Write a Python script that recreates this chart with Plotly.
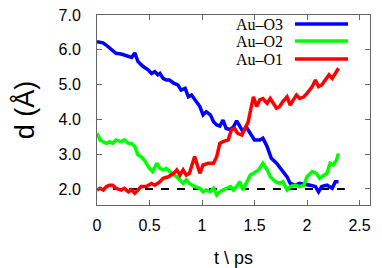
import plotly.graph_objects as go

t_o3 = [0, 0.057, 0.09, 0.14, 0.18, 0.23, 0.30, 0.33, 0.36, 0.39, 0.44, 0.49, 0.52, 0.55, 0.58, 0.60, 0.63, 0.66, 0.69, 0.73, 0.77, 0.80, 0.84, 0.87, 0.90, 0.95, 0.98, 1.01, 1.04, 1.08, 1.11, 1.14, 1.17, 1.20, 1.23, 1.27, 1.30, 1.33, 1.36, 1.39, 1.42, 1.47, 1.50, 1.55, 1.58, 1.62, 1.66, 1.71, 1.76, 1.81, 1.84, 1.89, 1.93, 1.98, 2.03, 2.08, 2.11, 2.14, 2.19, 2.24, 2.27, 2.30]
d_o3 = [6.23, 6.20, 6.13, 5.99, 5.90, 5.88, 5.80, 5.78, 5.91, 5.66, 5.52, 5.42, 5.32, 5.37, 5.28, 5.32, 5.18, 5.13, 5.13, 5.04, 4.99, 4.84, 4.89, 4.65, 4.70, 4.51, 4.37, 4.13, 4.22, 4.13, 3.93, 3.84, 3.81, 3.98, 3.74, 3.71, 3.79, 3.96, 3.79, 3.65, 3.79, 3.55, 3.41, 3.41, 3.46, 3.22, 2.88, 2.74, 2.55, 2.35, 2.16, 2.11, 2.16, 2.14, 2.11, 2.07, 1.92, 2.07, 2.11, 2.02, 2.21, 2.21]

t_o2 = [0, 0.03, 0.06, 0.09, 0.12, 0.15, 0.18, 0.23, 0.26, 0.30, 0.33, 0.36, 0.39, 0.42, 0.45, 0.50, 0.53, 0.57, 0.60, 0.63, 0.66, 0.69, 0.73, 0.76, 0.79, 0.82, 0.85, 0.88, 0.93, 0.98, 1.01, 1.04, 1.08, 1.11, 1.14, 1.17, 1.20, 1.23, 1.27, 1.30, 1.33, 1.36, 1.39, 1.42, 1.46, 1.49, 1.54, 1.58, 1.62, 1.65, 1.70, 1.74, 1.77, 1.81, 1.84, 1.89, 1.93, 1.97, 2.00, 2.05, 2.09, 2.12, 2.16, 2.19, 2.22, 2.25, 2.28, 2.30]
d_o2 = [3.60, 3.41, 3.36, 3.31, 3.36, 3.31, 3.41, 3.36, 3.41, 3.31, 3.31, 3.22, 2.98, 2.93, 2.83, 2.59, 2.50, 2.74, 2.59, 2.55, 2.59, 2.50, 2.40, 2.35, 2.26, 2.16, 2.26, 2.16, 2.07, 2.02, 1.92, 1.97, 1.92, 2.02, 1.83, 1.92, 1.97, 2.02, 2.07, 1.97, 2.07, 2.21, 1.97, 2.16, 2.40, 2.45, 2.55, 2.74, 2.55, 2.35, 2.21, 2.16, 2.21, 1.97, 2.07, 2.11, 2.07, 2.11, 2.35, 2.50, 2.45, 2.31, 2.40, 2.45, 2.74, 2.69, 2.83, 3.02]

t_o1 = [0, 0.03, 0.06, 0.09, 0.12, 0.15, 0.18, 0.23, 0.26, 0.30, 0.33, 0.36, 0.39, 0.42, 0.47, 0.52, 0.55, 0.60, 0.63, 0.68, 0.73, 0.76, 0.79, 0.82, 0.85, 0.88, 0.93, 0.98, 1.01, 1.06, 1.11, 1.14, 1.17, 1.20, 1.25, 1.28, 1.31, 1.34, 1.38, 1.41, 1.44, 1.47, 1.49, 1.52, 1.55, 1.58, 1.62, 1.65, 1.68, 1.71, 1.74, 1.77, 1.81, 1.84, 1.87, 1.90, 1.93, 1.97, 2.00, 2.05, 2.08, 2.11, 2.14, 2.17, 2.21, 2.24, 2.27, 2.30]
d_o1 = [1.97, 2.02, 1.97, 2.07, 2.11, 2.11, 2.02, 1.97, 2.02, 1.92, 1.97, 1.88, 1.97, 2.07, 2.07, 2.16, 2.11, 2.21, 2.31, 2.35, 2.45, 2.55, 2.40, 2.55, 2.40, 2.45, 2.93, 2.45, 2.69, 2.74, 2.74, 2.93, 3.31, 3.36, 3.41, 3.70, 3.74, 3.60, 3.55, 3.74, 3.93, 4.37, 4.65, 4.37, 4.56, 4.60, 4.46, 4.60, 4.46, 4.32, 4.37, 4.51, 4.65, 4.41, 4.56, 4.70, 4.60, 4.65, 4.75, 4.94, 5.13, 4.94, 4.99, 5.13, 5.28, 5.18, 5.32, 5.47]

ref_t = [0, 2.36]
ref_d = [2.0, 2.0]

x_ticks = [0, 0.5, 1, 1.5, 2, 2.5]
x_labels = ["0", "0.5", "1", "1.5", "2", "2.5"]
y_ticks = [2, 3, 4, 5, 6, 7]
y_labels = ["2.0", "3.0", "4.0", "5.0", "6.0", "7.0"]

names = ["Au\u2013O3", "Au\u2013O2", "Au\u2013O1"]
colors = ["#0000ff", "#00ff00", "#ff0000"]

fig = go.Figure()
fig.add_trace(go.Scatter(x=ref_t, y=ref_d, mode="lines",
                         line=dict(color="black", width=2, dash="8px,8px"),
                         showlegend=False))
for tt, dd, c in [(t_o3, d_o3, colors[0]), (t_o2, d_o2, colors[1]), (t_o1, d_o1, colors[2])]:
    fig.add_trace(go.Scatter(x=tt, y=dd, mode="lines",
                             line=dict(color=c, width=3.5), showlegend=False))

annotations = []
shapes = []
leg_y = [24, 41, 59]
for name, c, yp in zip(names, colors, leg_y):
    yp_paper = 1 - (yp - 15) / 190
    annotations.append(dict(xref="paper", yref="paper", x=(285 - 97) / 273, y=yp_paper,
                            text=name, showarrow=False, xanchor="right", yanchor="middle",
                            font=dict(family="Liberation Serif", size=16, color="black")))
    shapes.append(dict(type="line", xref="paper", yref="paper",
                       x0=(295 - 97) / 273, x1=(348 - 97) / 273, y0=yp_paper, y1=yp_paper,
                       line=dict(color=c, width=3.5)))

axis_common = dict(showline=True, mirror="ticks", linecolor="#666666", linewidth=1,
                   ticks="inside", ticklen=5, tickcolor="#666666", showgrid=False,
                   zeroline=False, automargin=False,
                   tickfont=dict(family="Liberation Sans", size=16, color="black"))

fig.update_layout(
    width=382, height=268,
    margin=dict(l=97, r=12, t=15, b=63),
    paper_bgcolor="white", plot_bgcolor="white",
    xaxis=dict(range=[0, 2.6], tickvals=x_ticks, ticktext=x_labels, ticklabelstandoff=6,
               title=dict(text="t \\ ps", font=dict(family="Liberation Sans", size=18, color="black"),
                          standoff=18),
               **axis_common),
    yaxis=dict(range=[1.54, 7.0], tickvals=y_ticks, ticktext=y_labels, ticklabelstandoff=12,
               title=dict(text="d (Å)", font=dict(family="Liberation Sans", size=27, color="black"),
                          standoff=16),
               **axis_common),
    annotations=annotations, shapes=shapes,
)

fig.write_html("out.html", config={"displayModeBar": False},
               post_script="document.body.style.margin='0';document.body.style.overflow='hidden';")
